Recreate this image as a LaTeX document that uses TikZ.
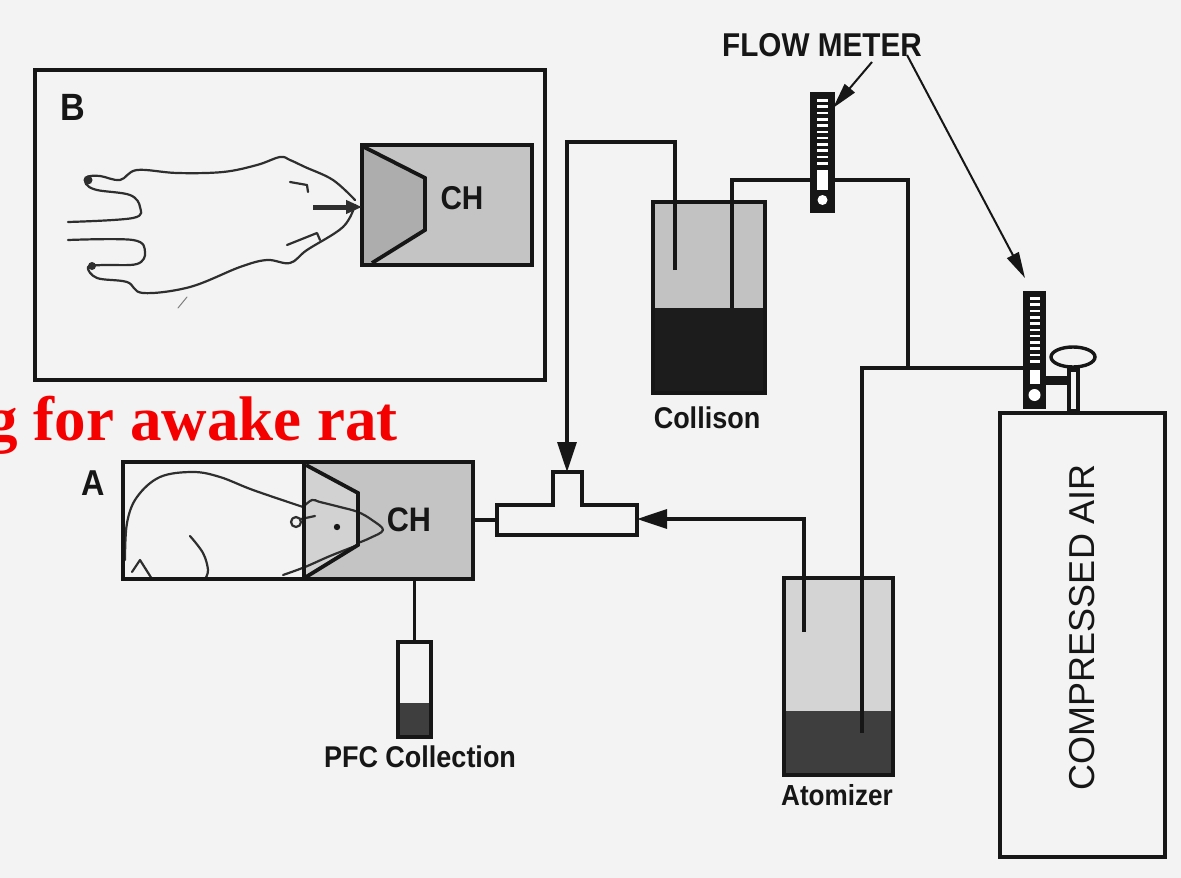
\documentclass[tikz,border=0pt]{standalone}
\usepackage{fontspec}
\setmainfont{Liberation Sans}
\newfontfamily\lab{Liberation Sans}[FakeStretch=0.9]
\newfontfamily\labwide{Liberation Sans}
\newfontfamily\redserif{Liberation Serif}
\usetikzlibrary{arrows.meta,calc,shapes.geometric}
\definecolor{paper}{HTML}{F3F3F3}
\definecolor{ink}{HTML}{161616}
\definecolor{sketch}{HTML}{2E2E2E}
\definecolor{chgray}{HTML}{C4C4C4}
\definecolor{chdark}{HTML}{ADADAD}
\definecolor{chlight}{HTML}{D2D2D2}
\definecolor{mist}{HTML}{C2C2C2}
\definecolor{mistlight}{HTML}{D4D4D4}
\definecolor{liquid}{HTML}{1C1C1C}
\definecolor{liquidgray}{HTML}{3E3E3E}
\tikzset{
  pipe/.style={draw=ink, line width=3.4pt},
  frame/.style={draw=ink, line width=3.4pt, inner sep=0pt, outer sep=0pt, rectangle},
  flowtip/.style={-{Triangle[length=30pt,width=19pt]}},
  pointer/.style={draw=ink, line width=2pt, -{Triangle[length=26pt,width=13pt]}},
  ratline/.style={draw=sketch, line width=2.2pt, line cap=round, line join=round},
  txt/.style={inner sep=0pt, text=ink, font=\lab\bfseries\fontsize{30}{34}\selectfont},
}
\begin{document}
\begin{tikzpicture}[x=1pt,y=-1pt]
\fill[paper] (0,0) rectangle (1181,878);
\useasboundingbox (0,0) rectangle (1181,878);
\clip (0,0) rectangle (1181,878);

% ---------- panel B: top view of the rat at the chamber ----------
\node[frame, minimum width=510pt, minimum height=310pt] (boxB) at (290,225) {};
\node[txt, font=\lab\bfseries\fontsize{38}{42}\selectfont] (labB) at (73,107) {B};
\node[frame, line width=4pt, fill=chgray, minimum width=170pt, minimum height=120pt] (chB) at (447,205) {};
\fill[chdark] (chB.north west) -- (425,178) -- (425,230) -- (372,265) -- (chB.south west) -- cycle;
\draw[ink, line width=3.8pt] (364,147) -- (425,178) -- (425,230) -- (372,263);
\draw[ink, line width=4pt] (chB.north west) rectangle (chB.south east);
\node[txt, font=\lab\bfseries\fontsize{33}{36}\selectfont] (chBtext) at (462,198) {CH};

\draw[ratline] plot[smooth, tension=0.6] coordinates {(355,200) (333,180) (305,167) (290,160) (280,157) (257,165) (223,172) (177,173) (137,170) (120,180) (100,176) (87,177) (86,184) (97,190) (130,195) (140,207) (133,218) (68,222)};
\draw[ratline] plot[smooth, tension=0.6] coordinates {(68,240) (133,240) (145,252) (137,264) (103,265) (88,267) (97,278) (127,282) (143,293) (190,287) (240,267) (267,260) (290,263) (307,250) (343,227) (355,205)};
\fill[sketch] (88,180) circle (4.5);
\fill[sketch] (92,266) circle (4);
\draw[ratline] (290,182) -- (307,185) -- (308,192);
\draw[ratline] (287,245) -- (317,233) -- (320,240);
\draw[ratline, line width=1pt, draw=gray] (187,297) -- (178,308);
\coordinate (noseB) at (313,207);
\draw[draw=sketch, line width=5pt, -{Triangle[length=16pt,width=13pt]}] (noseB) -- (chB.west |- noseB);

% ---------- panel A: side view of the rat in the holder ----------
\node[frame, minimum width=350pt, minimum height=117pt] (boxA) at (298,520.5) {};
\node[txt, font=\lab\bfseries\fontsize{36}{40}\selectfont] (labA) at (93,483) {A};
\fill[chgray] (304,462) rectangle (boxA.south east);
\fill[chlight] (304,464) -- (358,493) -- (358,545) -- (306,577) -- cycle;
\draw[ratline] plot[smooth, tension=0.6] coordinates {(303,507) (253,490) (220,477) (193,472) (160,477) (137,497) (127,523) (125,560)};
\draw[ratline] plot[smooth, tension=0.6] coordinates {(303,507) (312,500) (320,502) (340,507) (358,512) (372,520) (383,530) (370,538) (358,543)};
\draw[ratline] plot[smooth, tension=0.6] coordinates {(283,575) (305,567) (330,556) (358,545)};
\draw[ratline] (296,522) circle (5);
\draw[ratline] (301,519) -- (315,516);
\fill[ink] (337,527) circle (3.2);
\draw[ratline] plot[smooth, tension=0.6] coordinates {(190,536) (203,553) (208,570) (205,579)};
\draw[ratline] (132,572) -- (140,560) -- (152,579);
\draw[ink, line width=3.4pt] (304,462) -- (304,579);
\draw[ink, line width=3.8pt] (306,465) -- (358,493) -- (358,545) -- (306,577);
\draw[ink, line width=3.4pt] (boxA.north west) rectangle (boxA.south east);
\node[txt, font=\lab\bfseries\fontsize{34}{38}\selectfont] (chAtext) at (409,520) {CH};

% ---------- tee junction ----------
\draw[ink, line width=3.4pt, fill=paper] (497,505) -- (553,505) -- (553,472) -- (582,472) -- (582,505) -- (637,505) -- (637,535) -- (497,535) -- cycle;
\coordinate (teeL) at (497,520);
\coordinate (teeR) at (637,519);
\coordinate (teeT) at (567,472);
\draw[pipe] (boxA.east |- teeL) -- (teeL);

% ---------- PFC collection vial ----------
\node[frame, fill=paper, minimum width=33pt, minimum height=95pt] (vial) at (414.5,689.5) {};
\fill[liquidgray] (400,703) rectangle (429.5,735.5);
\draw[ink, line width=3.4pt] (vial.north west) rectangle (vial.south east);
\draw[pipe] (boxA.south -| vial.north) -- (vial.north);
\node[txt] (pfc) at (420,757) {PFC Collection};

% ---------- Collison nebulizer ----------
\node[frame, minimum width=112pt, minimum height=191pt] (coll) at (709,297.5) {};
\fill[mist] (653,202) rectangle (765,308);
\fill[liquid] (653,308) rectangle (765,393);
\draw[ink, line width=3.4pt] (coll.north west) rectangle (coll.south east);
\node[txt] (colltext) at (707,418) {Collison};
\coordinate (collOut) at (675,270);
\coordinate (collIn) at (732,308);

% ---------- Atomizer ----------
\node[frame, minimum width=109pt, minimum height=197pt] (atom) at (838.5,676.5) {};
\fill[mistlight] (784,578) rectangle (893,711);
\fill[liquidgray] (784,711) rectangle (893,775);
\draw[ink, line width=3.4pt] (atom.north west) rectangle (atom.south east);
\node[txt, font=\lab\bfseries\fontsize{29}{34}\selectfont] (atomtext) at (837,795) {Atomizer};
\coordinate (atomOut) at (804,632);
\coordinate (atomIn) at (862,733);

% ---------- compressed air tank ----------
\node[frame, minimum width=165pt, minimum height=444pt] (tank) at (1082.5,635) {};
\node[txt, font=\labwide\fontsize{36}{40}\selectfont, rotate=90] (tanktext) at (1082,627) {COMPRESSED AIR};

% ---------- air lines ----------
\coordinate (split) at (908,368);
\draw[pipe] (collIn) -- (732,180) -- (908,180) -- (split);
\draw[pipe] (1025,368) -- (862,368) -- (atomIn);
\draw[pipe, flowtip] (collOut) -- (675,142) -- (567,142) -- (teeT);
\draw[pipe, flowtip] (atomOut) -- (804,519) -- (teeR);

% ---------- flow meters ----------
\node[frame, fill=ink, minimum width=21pt, minimum height=117pt] (meter1) at (822.5,152.5) {};
\foreach \k in {0,...,10} {\fill[white] (817,{99+6.3*\k}) rectangle (828,{101.6+6.3*\k});}
\fill[white] (817,170) rectangle (828,190);
\fill[white] (822.5,200) circle (5);

\node[frame, fill=ink, minimum width=19pt, minimum height=114pt] (meter2) at (1034.5,350) {};
\foreach \k in {0,...,10} {\fill[white] (1029.5,{297+6.3*\k}) rectangle (1039.5,{299.6+6.3*\k});}
\fill[white] (1029.5,370) rectangle (1039.5,384);
\fill[white] (1034.5,395) circle (6);
% regulator valve
\fill[ink] (1044,376) rectangle (1070,385);
\draw[ink, line width=3.4pt, fill=paper] (1069,370) rectangle (1078,411);
\node[draw=ink, line width=3.4pt, fill=paper, ellipse, minimum width=44pt, minimum height=20pt, inner sep=0pt] (knob) at (1073,357) {};

% ---------- flow meter label and pointers ----------
\node[txt, font=\lab\bfseries\fontsize{33}{36}\selectfont] (fmtext) at (822,45) {FLOW METER};
\draw[pointer] (872,62) -- (meter1.north east |- 0,108);
\draw[pointer] (907,55) -- (meter2.north west |- 1018,278);

% ---------- title fragment ----------
\node[anchor=base east, inner sep=0pt, text={rgb,255:red,245;green,0;blue,0}, font=\redserif\bfseries\fontsize{63}{70}\selectfont] (title) at (398,440) {g for awake rat};
\end{tikzpicture}
\end{document}
